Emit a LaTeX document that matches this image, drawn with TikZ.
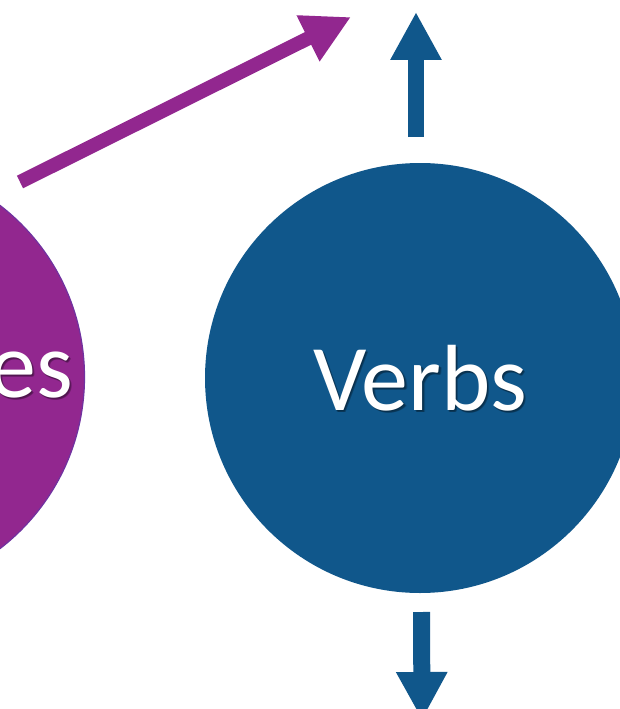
\documentclass[tikz,border=0pt]{standalone}
\usepackage{fontspec}
\setmainfont{Carlito}
\usetikzlibrary{arrows.meta}

\definecolor{verbblue}{HTML}{10578B}
\definecolor{plum}{HTML}{92278F}
\definecolor{plumedge}{HTML}{7032A0}

\tikzset{
  bubble/.style={circle, inner sep=0pt, draw=none},
  label text/.style={font=\fontsize{94}{94}\selectfont, text=white, inner sep=0pt},
  label shadow/.style={font=\fontsize{94}{94}\selectfont, text=black, opacity=0.14, inner sep=0pt},
  fat arrow/.style={line width=#1, line cap=butt,
    -{Triangle[width=48pt, length=48pt]}},
}

% a soft drop shadow built from a few faint offset copies
\newcommand{\softshadow}[3]{%
  \foreach \dx/\dy in {1.2/1.2, 2/2, 2.6/2.2, 1.6/2.6}
    \node[label shadow, anchor=#1] at ($(#2)+(\dx,\dy)$) {#3};}
\usetikzlibrary{calc}

\begin{document}
\begin{tikzpicture}[x=1pt, y=-1pt]
  \useasboundingbox (0,0) rectangle (620,709);
  \clip (0,0) rectangle (620,709);
  \fill[white] (0,0) rectangle (620,709);

  % the two word bubbles
  \node[bubble, fill=plum, draw=plumedge, line width=1.2pt, minimum size=433pt] (adj) at (-132,377) {};
  \node[bubble, fill=verbblue, minimum size=430pt] (verbs) at (420,378) {};

  % their labels
  \coordinate (adjBase) at (73,397);
  \coordinate (verbsBase) at (420,410);
  \softshadow{base east}{adjBase}{es}
  \node[label text, anchor=base east] (adjtext) at (adjBase) {es};
  \softshadow{base}{verbsBase}{Verbs}
  \node[label text, anchor=base] (verbstext) at (verbsBase) {Verbs};

  % free ends of the arrows
  \coordinate (pTail) at (20,182);
  \coordinate (pTip) at (351,17);
  \coordinate (upTail) at (416,137);
  \coordinate (upTip) at (416,12);
  \coordinate (downTail) at (421.5,612);
  \coordinate (downTip) at (422,720);

  \draw[fat arrow=14pt, plum] (pTail) -- (pTip);
  \draw[fat arrow=16pt, verbblue] (upTail) -- (upTip);
  \draw[fat arrow=17pt, verbblue] (downTail) -- (downTip);
\end{tikzpicture}
\end{document}
